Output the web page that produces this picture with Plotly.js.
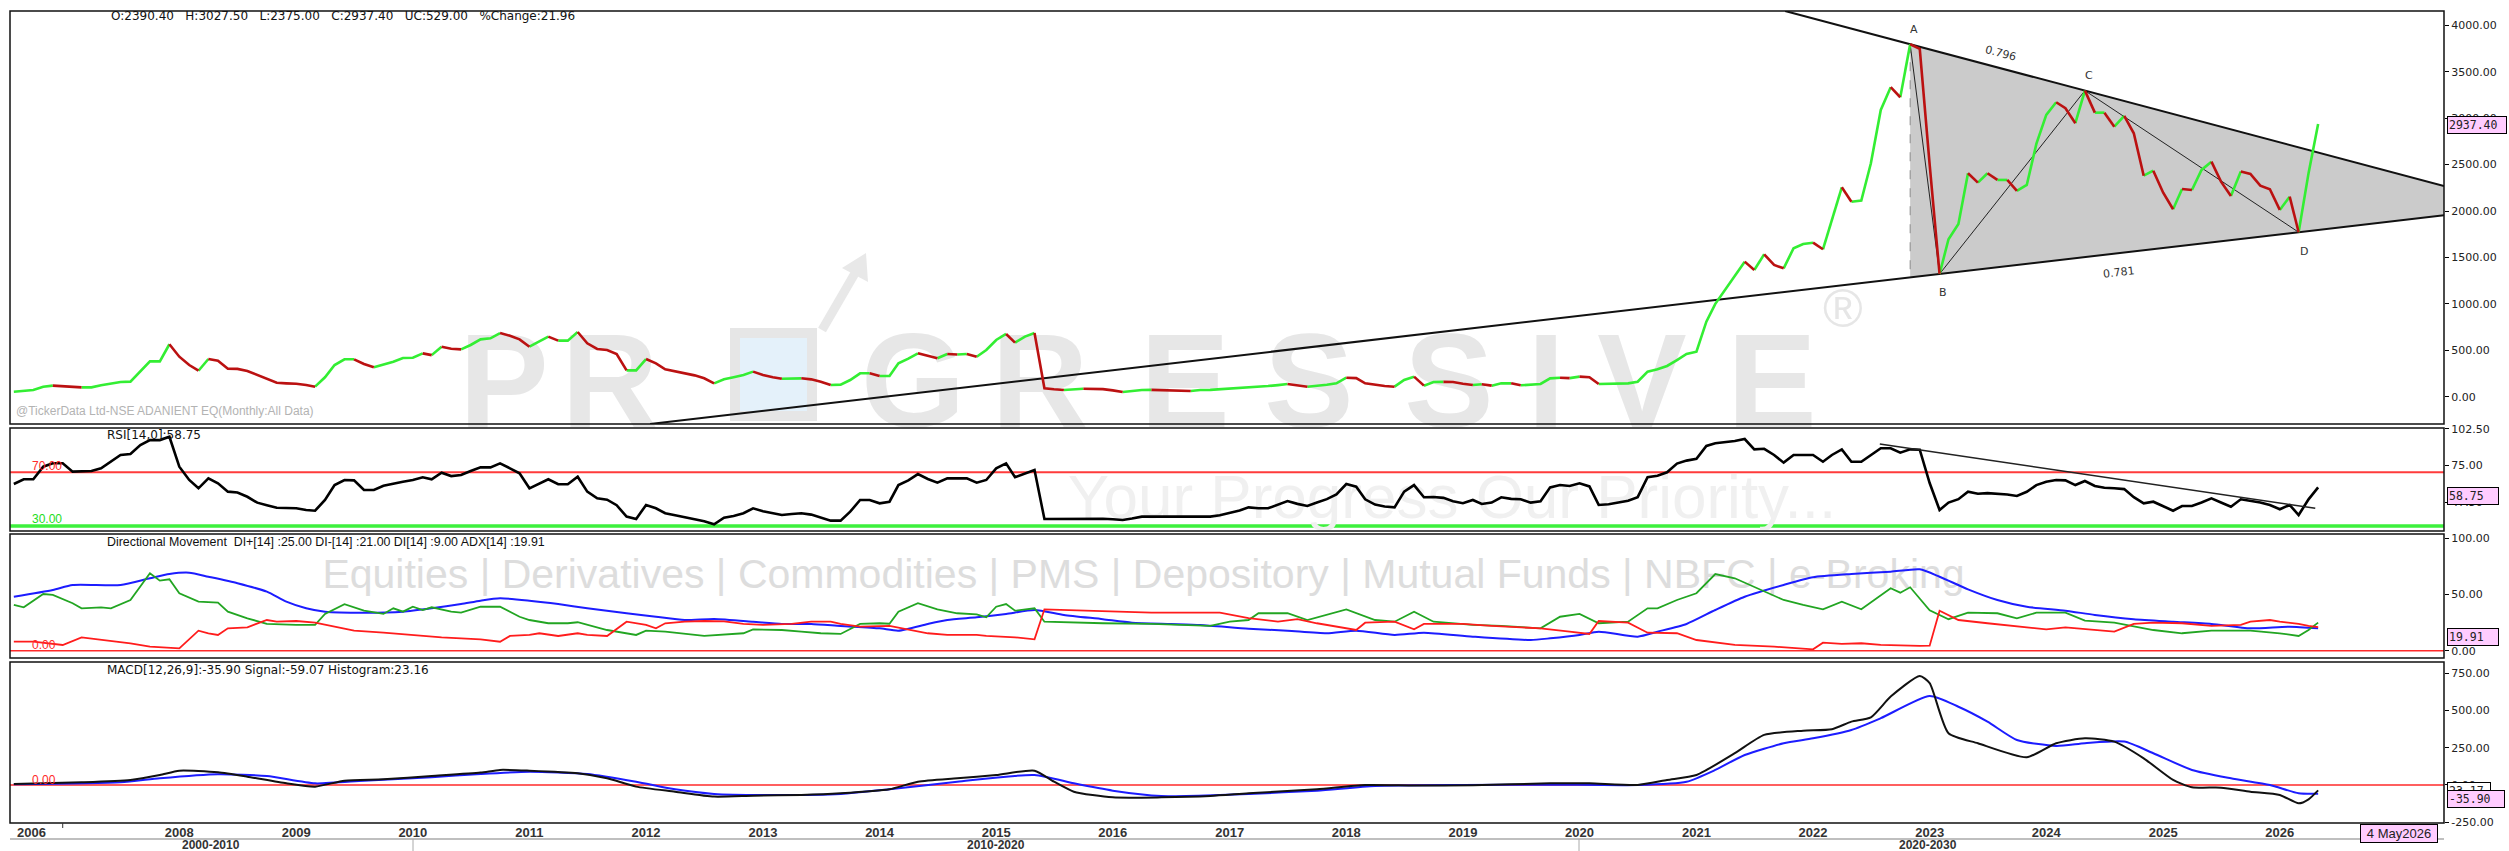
<!DOCTYPE html>
<html><head><meta charset="utf-8">
<script src="https://cdn.plot.ly/plotly-3.0.1.min.js"></script>
<style>html,body{margin:0;padding:0;background:#fff;overflow:hidden}#chart{width:2509px;height:851px}</style>
</head><body><div id="chart"></div>
<script>
// ---------- DATA (monthly, first bar = Aug 2006) ----------
const firstYear = 2006, firstMonth = 7; // 0-based month (Aug)
const closePrice = [
 54,62,72,108,119,112,104,101,101,123,
 140,158,162,270,381,381,565,431,341,280,
 406,388,302,300,277,235,190,150,144,140,
 126,108,209,341,403,403,352,317,345,377,
 417,420,467,448,539,517,510,557,618,629,
 686,657,618,539,593,647,604,604,697,575,
 514,503,460,284,284,406,360,295,272,255,
 230,198,144,187,209,234,270,234,210,194,
 196,198,187,162,126,130,180,252,252,223,
 223,360,410,468,440,414,460,455,460,431,
 503,611,676,582,647,686,90,80,72,80,
 86,84,82,68,50,62,72,74,70,66,
 62,61,72,74,80,90,96,104,108,115,
 125,137,125,108,115,128,144,205,200,144,
 126,115,108,180,216,119,158,160,158,140,
 126,135,119,144,144,123,130,137,198,205,
 200,216,210,137,137,140,144,162,270,295,
 331,395,460,485,808,1000,1150,1300,1455,1365,
 1534,1419,1383,1599,1645,1659,1588,1904,2256,2101,
 2112,2515,3089,3334,3226,3797,3747,2500,1322,1696,
 1861,2407,2306,2407,2335,2335,2217,2281,2723,3036,
 3172,3108,2946,3297,3060,3060,2909,3025,2838,2381,
 2435,2198,2019,2238,2227,2443,2532,2317,2163,2425,
 2400,2274,2235,2012,2155,1772,2408.4,2937.4];
const rsi = [
 61.3,64.8,64.8,74.2,76.7,76.7,70.5,70.5,71,73,
 77.9,82.9,83.7,90.3,94,94,96.5,74.2,64.3,58.1,
 65.5,61.8,55.6,55,51.8,47.4,45.5,43.6,43.4,43.2,
 41.9,41.4,49.4,60.5,64.3,64,56.8,56.8,60,61.8,
 63,64.3,66.3,64.8,69.7,67.2,68,71,73.7,73.7,
 76.7,73,69.3,58.1,61.3,64.8,61.1,61.1,66.7,55.6,
 50.6,49.6,45.5,37,35.2,45.7,43.2,39.5,38,36.8,
 35,33.5,31.3,36.2,37.5,39.5,43.2,41,39.5,38.2,
 39,39.5,38.5,36.5,34,34,40.7,49.4,49.4,46.9,
 48.1,60.5,64,68.7,65,62.3,65.5,65.5,65.5,62.3,
 64.3,73,76.7,66.3,69.3,71.7,35.2,35.2,35.2,35.6,
 35.7,35.7,35.4,35,34.5,35.6,37,37,37,36.8,
 36.6,36.5,36.8,37,38,40,41.5,43.9,43.2,43.2,
 46,48.6,46.5,44.9,47.5,50,53.5,61.3,59.3,49.9,
 46,44.5,43.9,55.6,60.5,51.4,51.6,51,48.5,47,
 49.4,46.4,47.5,51.4,50.2,49.9,47.4,48.5,58.8,60.5,
 59.8,61.8,59.5,45.7,46.2,47.2,48.8,51.5,66.3,67.5,
 70,76.5,78.7,80,89.6,91.6,92.3,93.3,94.8,87.1,
 87.5,82.9,77.2,82.9,82.9,82.9,77.9,82.9,87.1,77.9,
 77.9,82.5,87.9,87.9,84.6,87.1,86.8,62,41.9,47.5,
 50,55.6,54,54.5,54,53.5,52.4,55.5,60.5,63,
 64.3,64,60.5,63.5,59.8,58.5,58.1,57.5,51.5,46.9,
 48.1,44.5,41.4,44.9,44.9,47.5,50.6,47.5,44.4,49.9,
 48.8,47.5,45.7,42.5,45.7,38.2,49.9,58.75];
const rsiTrendMonths = [191.9, 236.7];
const rsiTrendValues = [91.1, 43.2];

const adxMonths = [0,4,6,11,14,16,18,20,23,26,28,30,32,36,40,43,46,48,50,53,56,59,63,66,69,72,76,79,82,85,89,91,94,96,99,102,105,108,112,115,119,122,127,131,135,138,142,145,150,156,158,161,163,167,169,172,175,178,182,185,189,193,196,198,201,204,207,211,214,218,222,226,230,234,237];
const adxValues = [48,54,58.5,58.5,64.4,68.2,69.4,65.8,60,52.5,43.6,37.7,34.7,33.8,34.7,37.7,41.5,44.5,46.6,44.5,41.5,37.7,33.3,30.2,27.3,28.2,25.8,23.8,23.8,22,19.9,17.8,23.8,27.3,29.7,32.7,36.2,31.8,28,24.9,23.8,22.9,19.6,17.8,15.5,17.8,14,16,12.5,9.5,11,14,16.9,12.5,16.9,23.8,36.2,48,58.5,65.3,68.2,70.3,72.4,65.8,54.6,45.1,39.1,35.6,31.8,28,25.8,23.8,19.9,21.4,19.91];
const diPlusMonths = [0,1,3,4,6,7,9,10,12,13,14,15,16,17,19,21,22,24,26,29,31,32,34,36,38,39,40,41,42,43,45,46,48,50,52,53,55,57,58,61,64,65,67,71,75,76,79,81,83,85,87,89,90,91,93,95,97,99,100,101,102,103,104,105,106,108,112,117,121,123,125,127,128,131,133,135,137,140,142,144,146,150,153,157,159,161,163,166,168,169,171,173,175,177,179,182,184,186,188,190,193,194,195,196,197,199,201,204,206,208,211,213,216,220,223,226,230,233,235,236,237];
const diPlusValues = [40.7,38.6,50.4,49.6,42.2,37.7,38.6,37.7,45.1,56.9,68.9,62.3,63.5,51.1,43.6,42.7,34.7,28.8,23.8,22.9,22.9,32.7,41.3,35.6,32.7,37.7,34.7,39.1,36.2,38.6,34.7,33.8,39.1,39.1,30.2,27.3,24.4,24.4,25.3,18.4,14,17.8,16.9,13.1,15.5,19,18.4,16.9,15.5,14.9,23.8,24.4,24,34.7,42.2,36.8,33.3,32.4,29.7,39.1,41.5,35.6,36.8,37.7,25.8,25.3,24.4,23.8,22.9,22,25.8,27.3,33.3,33.3,27.3,31.8,36.8,27.3,25.8,34.7,25.8,22.9,22,19.9,30.2,32.7,24.4,25.8,37.7,37.7,45.1,51.1,68.2,64.4,56.9,45.1,40.7,36.8,43.6,36.8,55.5,51.6,56.4,46.6,36,28,33.8,33.3,28.8,33.8,33.8,26.7,24.9,18.4,15.5,17.8,17.8,15.5,13.1,18.4,25];
const diMinusMonths = [0,2,5,7,12,14,17,19,20,21,22,24,26,27,29,31,33,35,38,41,44,48,50,51,53,54,56,58,59,61,63,65,66,67,69,71,73,75,77,80,82,84,85,87,89,90,94,96,99,100,103,105,106,108,113,117,121,124,127,130,132,134,138,139,142,144,145,149,152,157,160,162,163,166,168,171,173,177,181,185,186,188,190,192,196,197,198,200,203,206,209,211,214,216,218,220,223,226,229,230,232,233,235,236,237];
const diMinusValues = [8,8,5.1,11.9,6.6,3.6,2.1,17.8,15.5,14,19.9,20.8,27.3,25.8,26.4,24.9,21.4,17.8,16,14,11.9,10.1,8,13.1,14,15.5,13.1,15.5,14,13.1,25.8,22.9,19.9,24.4,25.8,26.4,26,23.8,22.9,23.8,25.8,25.8,23.8,21.4,21.4,22,15.5,14,14,13.1,11.9,10.1,36.8,36.2,34.7,33.8,33.8,33.8,29,25.8,28,24.4,18.4,24.9,25.8,19,23.8,23.8,22,19.9,16.9,14.9,26.4,24.9,16,15.5,9.5,5.1,3.6,1.2,7.1,6,6.6,5.1,4.2,4.5,35.6,27.3,24.4,21.4,19,20.8,18.4,16.9,23.8,24.9,24.4,22,22.9,25.8,27.3,25.8,23.8,22,21];

const macdMonths = [0,7,12,15,17,21,24,28,31,34,38,43,48,50,53,58,61,64,68,72,76,81,85,90,93,97,101,105,107,109,113,118,123,127,134,139,144,150,158,162,167,170,173,177,180,184,187,189,191,193,196,197,199,202,207,210,213,216,219,222,224,227,230,233,235,236,237];
const macdValues = [6.7,18,33.6,67,96,85,56,11,-11,29,38,60,83,101,96,79,45,-11,-45,-78,-72,-67,-56,-29,22,45,67,96,22,-45,-83,-83,-74,-56,-29,0,-3,-2,11,11,0,33.6,67,213,336,364,374,425,454,593,731,683,347,280,186,280,313,291,179,34,-15,-18,-45,-67,-123,-96,-35.9];
const signalMonths = [0,11,15,21,26,31,36,43,48,53,59,64,68,72,77,85,90,97,105,109,113,118,124,127,134,140,149,158,167,172,175,178,182,185,189,192,197,200,203,206,210,213,217,220,224,228,232,235,237];
const signalValues = [5,18,45,72,60,11,29,52,74,89,74,22,-29,-60,-67,-60,-29,22,67,11,-38,-74,-67,-60,-38,-7,0,2,0,22,101,201,280,313,369,448,597,525,425,302,262,280,291,213,101,45,0,-56,-59.07];

// pattern pivots (indices into closePrice)
const pivotLabels = ['A','B','C','D'];
const pivotIndex = [195, 198, 213, 235];
const ratioLabels = ['0.796', '0.781'];

const priceTicks = [0,500,1000,1500,2000,2500,3000,3500,4000];
const rsiTicks = [47.5,75,102.5];
const dmiTicks = [0,50,100];
const macdTicks = [-250,0,250,500,750];
const yearTicks = [2008,2009,2010,2011,2012,2013,2014,2015,2016,2017,2018,2019,2020,2021,2022,2023,2024,2025,2026];
const decadeLabels = ['2000-2010','2010-2020','2020-2030'];

// ---------- helpers ----------
const W = 2509, H = 851, PL = 10, PR = 2444;
function monthTime(m){
  const w = Math.floor(m);
  const a = Date.UTC(firstYear, firstMonth + w, 1), b = Date.UTC(firstYear, firstMonth + w + 1, 1);
  return a + (m - w) * (b - a);
}
const px = x => x / W, py = y => 1 - y / H;
const t = closePrice.map((_, i) => monthTime(i));
const xStart = Date.UTC(2006, 6, 20), xEnd = Date.UTC(2027, 4, 30);
const priceRange = [-294, 4155];

// price colored segments
const gx=[],gy=[],rx=[],ry=[];
let prevUp = null;
for (let i = 1; i < closePrice.length; i++){
  const up = closePrice[i] >= closePrice[i-1];
  const X = up ? gx : rx, Y = up ? gy : ry;
  if (prevUp !== up){
    if (X.length){ X.push(null); Y.push(null); }
    X.push(t[i-1]); Y.push(closePrice[i-1]);
  }
  X.push(t[i]); Y.push(closePrice[i]);
  prevUp = up;
}

// pattern geometry
const P = pivotIndex.map(i => ({t: t[i], v: closePrice[i]}));
const [A, B, C, D] = P;
const upper = tt => A.v + (tt - A.t) * (C.v - A.v) / (C.t - A.t);
const lower = tt => B.v + (tt - B.t) * (D.v - B.v) / (D.t - B.t);
const upperStartT = A.t + (priceRange[1] - A.v) * (C.t - A.t) / (C.v - A.v);
const lowerStartT = B.t + (priceRange[0] - B.v) * (D.t - B.t) / (D.v - B.v);

const traces = [];
traces.push({x:[A.t, xEnd, xEnd, A.t, A.t], y:[A.v, upper(xEnd), lower(xEnd), lower(A.t), A.v], mode:'lines', fill:'toself', fillcolor:'#cbcbcb', line:{width:0}, hoverinfo:'skip', xaxis:'x', yaxis:'y'});
traces.push({x:[A.t, A.t], y:[A.v, lower(A.t)], mode:'lines', line:{color:'#8a8a8a', width:1, dash:'dash'}, hoverinfo:'skip', yaxis:'y'});
traces.push({x:[upperStartT, xEnd], y:[priceRange[1], upper(xEnd)], mode:'lines', line:{color:'#111', width:2}, hoverinfo:'skip', yaxis:'y'});
traces.push({x:[lowerStartT, xEnd], y:[priceRange[0], lower(xEnd)], mode:'lines', line:{color:'#111', width:2}, hoverinfo:'skip', yaxis:'y'});
traces.push({x:P.map(p=>p.t), y:P.map(p=>p.v), mode:'lines', line:{color:'#222', width:1}, hoverinfo:'skip', yaxis:'y'});
traces.push({x:gx, y:gy, mode:'lines', line:{color:'#33ee33', width:2.6}, connectgaps:false, hoverinfo:'skip', yaxis:'y'});
traces.push({x:rx, y:ry, mode:'lines', line:{color:'#bb1111', width:2.6}, connectgaps:false, hoverinfo:'skip', yaxis:'y'});
// RSI
traces.push({x:t, y:rsi, mode:'lines', line:{color:'#000', width:2.6}, hoverinfo:'skip', yaxis:'y2'});
traces.push({x:rsiTrendMonths.map(monthTime), y:rsiTrendValues, mode:'lines', line:{color:'#222', width:1.6}, hoverinfo:'skip', yaxis:'y2'});
// DMI
traces.push({x:adxMonths.map(monthTime), y:adxValues, mode:'lines', line:{color:'#1c1cff', width:2, shape:'spline', smoothing:0.6}, hoverinfo:'skip', yaxis:'y3'});
traces.push({x:diPlusMonths.map(monthTime), y:diPlusValues, mode:'lines', line:{color:'#22a522', width:1.8}, hoverinfo:'skip', yaxis:'y3'});
traces.push({x:diMinusMonths.map(monthTime), y:diMinusValues, mode:'lines', line:{color:'#ff1c1c', width:1.8}, hoverinfo:'skip', yaxis:'y3'});
// MACD
traces.push({x:signalMonths.map(monthTime), y:signalValues, mode:'lines', line:{color:'#1c1cff', width:2, shape:'spline', smoothing:0.6}, hoverinfo:'skip', yaxis:'y4'});
traces.push({x:macdMonths.map(monthTime), y:macdValues, mode:'lines', line:{color:'#111', width:2, shape:'spline', smoothing:0.6}, hoverinfo:'skip', yaxis:'y4'});

// ---------- layout ----------
const tickFont = {family:'DejaVu Sans, sans-serif', size:11, color:'#222'};
function yax(domTop, domBot, range, ticks){
  return {domain:[py(domBot), py(domTop)], range:range, side:'right', anchor:'x', tickvals:ticks, ticktext:ticks.map(v=>v.toFixed(2)),
    ticks:'outside', ticklen:4, tickcolor:'#000', showgrid:false, zeroline:false, showline:false, tickfont:tickFont, fixedrange:true};
}
const narrow = 'Liberation Sans Narrow, Arial Narrow, sans-serif';
const ann = [];
function txt(x, y, text, font, extra){ ann.push(Object.assign({xref:'paper', yref:'paper', x:px(x), y:py(y), text:text, showarrow:false, xanchor:'left', yanchor:'middle', font:font}, extra||{})); }
const sp = '\u00a0\u00a0', sp3 = '\u00a0\u00a0\u00a0';
const lblW = {family:'DejaVu Sans, sans-serif', size:12, color:'#111'};
txt(109, 16, 'O:2390.40'+sp3+'H:3027.50'+sp3+'L:2375.00'+sp3+'C:2937.40'+sp3+'UC:529.00'+sp3+'%Change:21.96', lblW);
txt(14, 411, '@TickerData Ltd-NSE ADANIENT EQ(Monthly:All Data)', {family:'Liberation Sans, Arial, sans-serif', size:12, color:'#b3b3b3'});
txt(105, 435, 'RSI[14,0]:58.75', lblW);
txt(105, 542, 'Directional Movement'+sp+'DI+[14] :25.00 DI-[14] :21.00 DI[14] :9.00 ADX[14] :19.91', {family:'Liberation Sans, Arial, sans-serif', size:12.4, color:'#111'});
txt(105, 670, 'MACD[12,26,9]:-35.90 Signal:-59.07 Histogram:23.16', lblW);
txt(30, 466, '70.00', {family:'Liberation Sans, Arial, sans-serif', size:12, color:'#ff2a2a'});
txt(30, 519, '30.00', {family:'Liberation Sans, Arial, sans-serif', size:12, color:'#22dd22'});
txt(30, 645, '0.00', {family:'Liberation Sans, Arial, sans-serif', size:12, color:'#ff2a2a'});
txt(30, 780, '0.00', {family:'Liberation Sans, Arial, sans-serif', size:12, color:'#ff2a2a'});

// pattern labels
const pShift = [[4,15],[3,-19],[4,15],[5,-19]];
P.forEach((p,i)=>ann.push({x:p.t, y:p.v, xref:'x', yref:'y', text:pivotLabels[i], showarrow:false, xanchor:'center', yanchor:'middle', xshift:pShift[i][0], yshift:pShift[i][1], font:{family:'DejaVu Sans, sans-serif', size:11, color:'#333'}}));
const angUp = 14.8, angLo = -6.6;
const tUp = (A.t+C.t)/2 + 0.02*(C.t-A.t);
ann.push({x:tUp, y:upper(tUp), xref:'x', yref:'y', text:ratioLabels[0], showarrow:false, xanchor:'center', yanchor:'middle', yshift:15, textangle:angUp, font:{family:'DejaVu Sans, sans-serif', size:11, color:'#333'}});
ann.push({x:(B.t+D.t)/2, y:lower((B.t+D.t)/2), xref:'x', yref:'y', text:ratioLabels[1], showarrow:false, xanchor:'center', yanchor:'middle', yshift:-19, textangle:angLo, font:{family:'DejaVu Sans, sans-serif', size:11, color:'#333'}});

// value boxes
const boxFont = {family:'DejaVu Sans Mono, monospace', size:11.5, color:'#222'};
function vbox(yref, v, text, anchor, bg, w, shift){ ann.push({xref:'paper', yref:yref, x:px(2447), y:v, xanchor:'left', yanchor:anchor, yshift:shift||0, text:text, showarrow:false, bgcolor:bg, bordercolor:'#000', borderwidth:1, borderpad:1, width:w, align:'left', font:boxFont}); }
vbox('y', closePrice[closePrice.length-1], closePrice[closePrice.length-1].toFixed(2), 'middle', '#ffccff', 56, -1);
vbox('y2', rsi[rsi.length-1], rsi[rsi.length-1].toFixed(2), 'top', '#ffccff', 48);
vbox('y3', adxValues[adxValues.length-1], adxValues[adxValues.length-1].toFixed(2), 'top', '#ffccff', 48);
vbox('y4', macdValues[macdValues.length-1]-signalValues[signalValues.length-1], (macdValues[macdValues.length-1]-signalValues[signalValues.length-1]).toFixed(2), 'top', '#ffffff', 40);
vbox('y4', macdValues[macdValues.length-1], macdValues[macdValues.length-1].toFixed(2), 'top', '#ffccff', 54);
ann.push({xref:'paper', yref:'paper', x:px(2399), y:py(833), xanchor:'center', yanchor:'middle', text:'4 May2026', showarrow:false, bgcolor:'#ffccff', bordercolor:'#000', borderwidth:1, borderpad:1, width:74, font:{family:narrow, size:13, color:'#222'}});

// x labels extra
const xFont = {family:narrow, size:13, color:'#333', weight:700};
const decFont = {family:narrow, size:12, color:'#333', weight:700};
ann.push({xref:'paper', yref:'paper', x:px(31.5), y:py(832), xanchor:'center', yanchor:'middle', text:'2006', showarrow:false, font:xFont});
[[211,decadeLabels[0]],[996,decadeLabels[1]],[1928,decadeLabels[2]]].forEach(d=>ann.push({xref:'paper', yref:'paper', x:px(d[0]), y:py(844.5), xanchor:'center', yanchor:'middle', text:d[1], showarrow:false, font:decFont}));

// shapes
const shapes = [];
function rect(top, bot){ shapes.push({type:'rect', xref:'paper', yref:'paper', x0:px(PL), x1:px(PR), y0:py(bot), y1:py(top), line:{color:'#111', width:1.5}, fillcolor:'rgba(0,0,0,0)', layer:'above'}); }
rect(11, 424); rect(428, 531); rect(534, 658); rect(662, 823);
function hline(yref, v, color, w){ shapes.push({type:'line', xref:'paper', yref:yref, x0:px(PL), x1:px(PR), y0:v, y1:v, line:{color:color, width:w}, layer:'below'}); }
hline('y2', 70, '#ff3b3b', 2); hline('y2', 30, '#3df03d', 3.5); hline('y3', 0, '#ff2a2a', 1.6); hline('y4', 0, '#ff2a2a', 1.6);
shapes.push({type:'line', xref:'paper', yref:'paper', x0:px(PL), x1:px(PR), y0:py(839), y1:py(839), line:{color:'#aaa', width:1.5}});
shapes.push({type:'line', xref:'paper', yref:'paper', x0:px(413), x1:px(413), y0:py(839), y1:py(851), line:{color:'#aaa', width:1}});
shapes.push({type:'line', xref:'paper', yref:'paper', x0:px(1579), x1:px(1579), y0:py(839), y1:py(851), line:{color:'#aaa', width:1}});
shapes.push({type:'line', xref:'x', yref:'paper', x0:Date.UTC(2007,0,1), x1:Date.UTC(2007,0,1), y0:py(823), y1:py(828), line:{color:'#333', width:1}});

// watermark (decorative text behind the data)
const wmLetters = ['P','R','','G','R','E','S','S','I','V','E'];
const wmCenters = [504,610,770,913,1040,1185,1309,1449,1546,1642,1772];
shapes.push({type:'rect', xref:'paper', yref:'paper', x0:px(735), x1:px(812), y0:py(416), y1:py(333), fillcolor:'#e4f1fa', line:{color:'#e6e6e6', width:10}, layer:'below'});
shapes.push({type:'line', xref:'paper', yref:'paper', x0:px(822), x1:px(858), y0:py(330), y1:py(268), line:{color:'#e8e8e8', width:9}, layer:'below'});
shapes.push({type:'path', xref:'paper', yref:'paper', path:`M ${px(842)},${py(268)} L ${px(866)},${py(253)} L ${px(868)},${py(282)} Z`, fillcolor:'#e8e8e8', line:{width:0}, layer:'below'});
wmLetters.forEach((L,i)=>{ if(!L) return; shapes.push({type:'rect', xref:'paper', yref:'paper', x0:px(wmCenters[i]-75), x1:px(wmCenters[i]+75), y0:py(420), y1:py(314), line:{width:0}, fillcolor:'rgba(0,0,0,0)', layer:'below', label:{text:L, textposition:'middle center', font:{family:'Liberation Sans, Arial, sans-serif', size:134, color:'#e7e7e7', weight:700}}}); });
shapes.push({type:'rect', xref:'paper', yref:'paper', x0:px(1820), x1:px(1866), y0:py(325), y1:py(280), line:{width:0}, fillcolor:'rgba(0,0,0,0)', layer:'below', label:{text:'®', textposition:'middle center', font:{family:'Liberation Sans, Arial, sans-serif', size:54, color:'#e6e6e6'}}});
shapes.push({type:'rect', xref:'paper', yref:'paper', x0:px(1092), x1:px(1812), y0:py(520), y1:py(460), line:{width:0}, fillcolor:'rgba(0,0,0,0)', layer:'below', label:{text:'Your Progress Our Priority...', textposition:'middle center', font:{family:narrow, size:62, color:'#f0f0f0'}}});
shapes.push({type:'rect', xref:'paper', yref:'paper', x0:px(395), x1:px(1892), y0:py(590), y1:py(550), line:{width:0}, fillcolor:'rgba(0,0,0,0)', layer:'below', label:{text:'Equities | Derivatives | Commodities | PMS | Depository | Mutual Funds | NBFC | e-Broking', textposition:'middle center', font:{family:narrow, size:41, color:'#dddddd'}}});

const layout = {
  width:W, height:H, margin:{l:0,r:0,t:0,b:0}, paper_bgcolor:'#fff', plot_bgcolor:'rgba(0,0,0,0)', showlegend:false,
  font:tickFont,
  xaxis:{type:'date', domain:[px(PL), px(PR)], range:[xStart, xEnd], anchor:'y4',
    tickvals:yearTicks.map(y=>Date.UTC(y,0,1)), ticktext:yearTicks.map(String), ticks:'', tickangle:0,
    showgrid:false, zeroline:false, showline:false, tickfont:xFont, fixedrange:true},
  yaxis: yax(11, 424, priceRange, priceTicks),
  yaxis2: yax(428, 531, [26.3, 103], rsiTicks),
  yaxis3: yax(534, 658, [-6.5, 103.8], dmiTicks),
  yaxis4: yax(662, 823, [-255, 825], macdTicks),
  annotations: ann, shapes: shapes
};
Plotly.newPlot('chart', traces, layout, {staticPlot:true, displayModeBar:false});
</script></body></html>
